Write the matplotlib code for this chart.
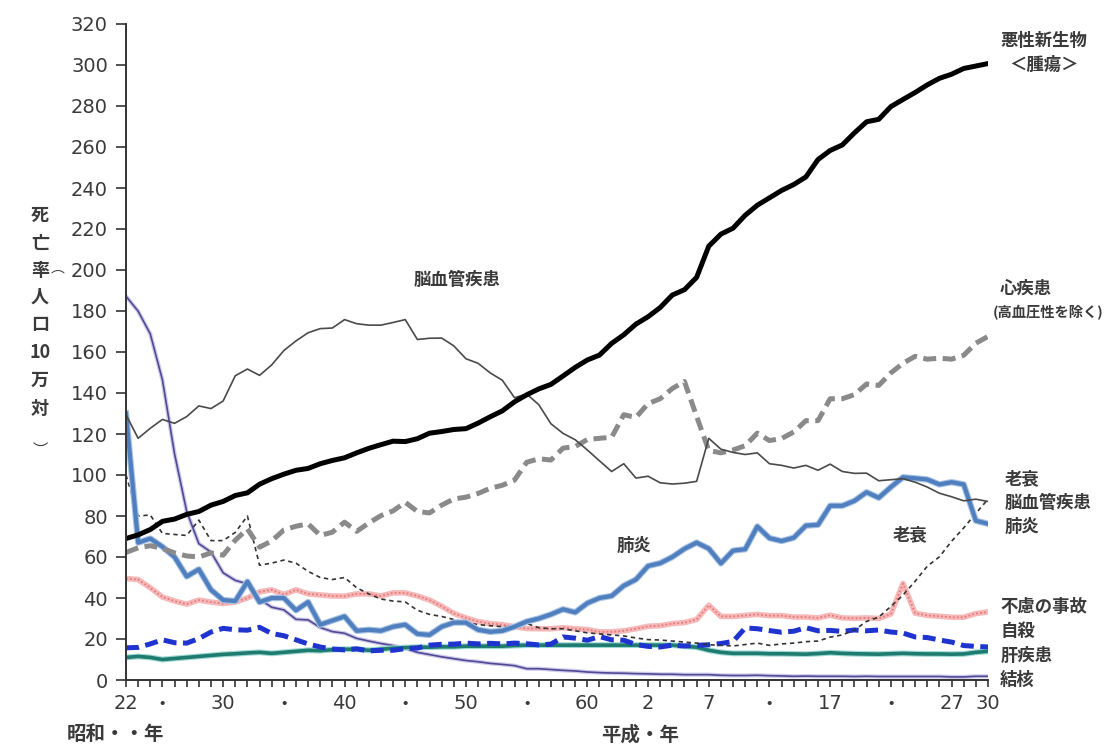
import numpy as np
import matplotlib
matplotlib.use('Agg')
import matplotlib.pyplot as plt

# 年次 (昭和22年 = 1947 ... 平成30年 = 2018)
years = list(range(1947, 2019))

tick_years = [1947, 1950, 1955, 1960, 1965, 1970, 1975, 1980, 1985,
              1990, 1995, 2000, 2005, 2010, 2015, 2018]
tick_labels = ['22', '・', '30', '・', '40', '・', '50', '・', '60',
               '2', '7', '・', '17', '・', '27', '30']

# 死亡率 (人口10万対)
cancer = [69.0, 70.8, 73.4, 77.4, 78.5, 80.8, 82.2, 85.3, 87.1, 90.0,
          91.3, 95.5, 98.2, 100.4, 102.3, 103.2, 105.5, 107.1, 108.4, 110.8,
          113.0, 114.8, 116.5, 116.3, 117.7, 120.4, 121.2, 122.2, 122.6, 125.3,
          128.4, 131.3, 135.7, 139.1, 142.0, 144.2, 148.3, 152.5, 156.1, 158.5,
          164.2, 168.4, 173.6, 177.2, 181.7, 187.8, 190.4, 196.4, 211.6, 217.5,
          220.4, 226.7, 231.6, 235.2, 238.8, 241.7, 245.4, 253.9, 258.3, 261.0,
          266.9, 272.3, 273.5, 279.7, 283.2, 286.6, 290.3, 293.5, 295.5, 298.3,
          299.5, 300.7]

stroke = [129.4, 117.9, 122.8, 127.1, 125.2, 128.5, 133.7, 132.4, 136.1, 148.4,
          151.7, 148.6, 153.7, 160.7, 165.4, 169.4, 171.4, 171.7, 175.8, 173.8,
          173.1, 173.1, 174.4, 175.8, 166.1, 166.7, 166.8, 163.0, 156.7, 154.5,
          149.8, 146.2, 137.7, 139.5, 134.3, 125.0, 120.3, 117.2, 112.2, 106.9,
          101.7, 105.5, 98.5, 99.4, 96.2, 95.6, 96.0, 96.9, 117.9, 112.6,
          111.0, 110.0, 110.8, 105.5, 104.7, 103.4, 104.7, 102.3, 105.3, 101.7,
          100.8, 100.9, 97.2, 97.7, 98.2, 96.5, 94.1, 91.1, 89.4, 87.4,
          88.2, 87.1]

heart = [62.2, 64.5, 65.5, 64.2, 62.0, 60.5, 60.0, 62.0, 60.9, 68.2,
         73.7, 64.8, 67.8, 73.2, 75.0, 76.2, 70.5, 72.1, 77.0, 72.5,
         76.6, 80.2, 82.5, 86.7, 82.2, 81.5, 85.3, 88.3, 89.2, 91.0,
         93.5, 95.0, 97.5, 106.2, 107.9, 107.3, 113.1, 113.9, 117.3, 117.9,
         118.4, 129.4, 128.1, 134.8, 137.2, 142.2, 145.6, 128.6, 112.0, 110.8,
         112.2, 114.3, 120.4, 116.8, 117.8, 121.0, 126.5, 126.5, 137.2, 137.2,
         139.2, 144.4, 143.7, 149.8, 154.5, 157.9, 156.5, 157.0, 156.5, 158.4,
         164.3, 167.6]

pneumonia = [130.0, 67.0, 69.0, 65.0, 60.0, 50.5, 54.0, 44.0, 39.0, 38.5,
             48.0, 38.0, 40.0, 40.0, 34.0, 38.0, 27.0, 29.0, 31.0, 24.0,
             24.5, 24.0, 26.0, 27.0, 22.5, 22.0, 26.0, 28.0, 28.0, 24.5,
             23.5, 24.0, 26.0, 28.5, 30.0, 32.0, 34.5, 33.0, 37.5, 40.0,
             41.0, 46.0, 49.0, 55.6, 57.0, 60.0, 64.0, 67.0, 64.1, 56.9,
             63.1, 63.8, 74.9, 69.2, 67.8, 69.4, 75.3, 75.7, 85.0, 85.0,
             87.4, 91.6, 88.9, 94.1, 98.9, 98.4, 97.8, 95.4, 96.5, 95.4,
             77.7, 76.2]

senility = [100.0, 80.0, 80.5, 71.5, 71.0, 70.5, 78.0, 68.0, 68.0, 72.0,
            80.0, 56.0, 57.0, 58.5, 57.0, 53.0, 50.0, 49.0, 50.0, 45.0,
            42.0, 39.5, 38.5, 38.1, 34.0, 32.0, 31.0, 29.5, 28.1, 27.0,
            26.5, 26.0, 26.0, 27.6, 25.5, 25.0, 25.0, 24.0, 23.0, 22.5,
            22.0, 21.5, 20.5, 19.7, 19.5, 19.0, 18.5, 18.0, 17.2, 16.9,
            16.6, 17.3, 18.0, 16.9, 17.6, 18.0, 18.7, 19.0, 20.9, 22.0,
            24.4, 28.6, 30.7, 35.9, 41.4, 48.2, 55.5, 60.1, 67.7, 74.2,
            81.3, 88.2]

accident = [49.5, 49.0, 45.0, 40.5, 38.5, 37.0, 39.0, 38.0, 37.3, 38.0,
            40.0, 43.0, 44.0, 41.7, 44.0, 42.0, 41.5, 41.0, 40.9, 42.0,
            42.0, 41.0, 42.5, 42.5, 41.0, 39.0, 36.0, 32.5, 30.3, 28.5,
            27.5, 27.0, 26.0, 25.1, 25.0, 25.0, 25.5, 25.0, 24.6, 23.5,
            23.5, 24.0, 25.0, 26.2, 26.5, 27.5, 28.0, 29.5, 36.5, 31.0,
            31.0, 31.5, 32.0, 31.4, 31.4, 30.7, 30.7, 30.3, 31.6, 30.3,
            30.1, 30.3, 30.0, 32.2, 47.1, 32.6, 31.5, 31.1, 30.6, 30.6,
            32.4, 33.2]

suicide = [15.7, 15.9, 17.6, 19.6, 18.2, 18.0, 20.2, 23.4, 25.2, 24.5,
           24.3, 25.7, 22.7, 21.6, 19.6, 17.6, 16.1, 15.1, 14.7, 15.2,
           14.2, 14.5, 14.5, 15.3, 15.6, 17.0, 17.4, 17.5, 18.0, 17.6,
           17.9, 17.6, 18.0, 17.7, 17.1, 17.5, 21.0, 20.4, 19.4, 21.2,
           19.6, 19.4, 17.3, 16.4, 16.1, 17.0, 16.6, 16.9, 17.2, 17.8,
           18.8, 25.4, 25.0, 24.1, 23.3, 23.8, 25.5, 24.0, 24.2, 23.7,
           24.4, 24.0, 24.4, 23.4, 22.9, 21.0, 20.7, 19.5, 18.5, 16.8,
           16.4, 16.1]

liver = [11.0, 11.5, 11.0, 10.0, 10.5, 11.0, 11.5, 12.0, 12.5, 12.8,
         13.2, 13.5, 13.0, 13.5, 14.0, 14.5, 14.3, 14.8, 15.0, 15.0,
         14.5, 15.0, 15.5, 15.8, 16.0, 16.0, 16.2, 16.2, 16.5, 16.5,
         16.5, 16.5, 16.8, 17.0, 17.0, 17.0, 17.0, 17.0, 17.0, 17.0,
         17.0, 17.0, 17.0, 17.0, 17.0, 17.0, 16.5, 16.0, 14.5, 13.5,
         13.0, 13.0, 13.0, 12.8, 12.8, 12.7, 12.6, 12.9, 13.3, 13.0,
         12.8, 12.7, 12.6, 12.8, 13.0, 12.8, 12.7, 12.7, 12.6, 12.7,
         13.5, 14.0]

tb = [187.2, 179.9, 168.8, 146.4, 110.3, 82.2, 66.5, 62.4, 52.3, 48.6,
      46.9, 39.4, 35.5, 34.2, 29.6, 29.3, 25.6, 23.6, 22.8, 20.3,
      19.0, 17.8, 16.8, 15.4, 13.5, 12.4, 11.3, 10.4, 9.5, 8.9,
      8.1, 7.6, 7.0, 5.5, 5.5, 5.1, 4.7, 4.4, 3.9, 3.6,
      3.4, 3.3, 3.1, 3.0, 2.8, 2.8, 2.6, 2.6, 2.6, 2.3,
      2.2, 2.2, 2.3, 2.1, 2.0, 1.8, 1.9, 1.8, 1.8, 1.8,
      1.7, 1.8, 1.7, 1.7, 1.7, 1.7, 1.7, 1.7, 1.5, 1.5,
      1.8, 1.8]

plt.rcParams['font.family'] = ['DejaVu Sans', 'Noto Sans CJK JP']
cjk = ['Noto Sans CJK JP', 'DejaVu Sans']
txt_color = '#3a3a3a'

fig = plt.figure(figsize=(11.04, 7.46), dpi=100)
ax = fig.add_axes([126 / 1104, 66 / 746, 862 / 1104, 656 / 746])

# 結核
ax.plot(years, tb, color='#cfcbe8', lw=3.0)
ax.plot(years, tb, color='#4f4996', lw=1.2)
# 肝疾患
ax.plot(years, liver, color='#9fd9d3', lw=4.2)
ax.plot(years, liver, color='#1f7b6f', lw=2.6)
# 自殺
ax.plot(years, suicide, color='#1f33cf', lw=3.6, dashes=(2.6, 1.3))
# 不慮の事故
ax.plot(years, accident, color='#f6b8b8', lw=4.0)
ax.plot(years, accident, color='#e77b7b', lw=1.3, dashes=(1, 1.2))
# 老衰
ax.plot(years, senility, color='#333333', lw=1.2, dashes=(2.6, 2.2))
# 肺炎
ax.plot(years, pneumonia, color='#a9c3e4', lw=4.6)
ax.plot(years, pneumonia, color='#4f7fbe', lw=3.0)
# 心疾患
ax.plot(years, heart, color='#8a8a8a', lw=3.6, dashes=(2.6, 1.3))
# 脳血管疾患
ax.plot(years, stroke, color='#4a4a4a', lw=1.2)
# 悪性新生物
ax.plot(years, cancer, color='#000000', lw=3.6)

ax.set_xlim(1947, 2018)
ax.set_ylim(0, 320)
ax.set_yticks(np.arange(0, 321, 20))
ax.set_xticks(tick_years)
ax.set_xticklabels(tick_labels)
ax.set_xticks(years, minor=True)
for lab in ax.get_xticklabels():
    if lab.get_text() == '・':
        lab.set_fontfamily(cjk)

for s in ['top', 'right']:
    ax.spines[s].set_visible(False)
for s in ['left', 'bottom']:
    ax.spines[s].set_color('#333333')
    ax.spines[s].set_linewidth(1.4)

ax.tick_params(axis='y', direction='out', length=7, width=1.2, color='#333333',
               labelsize=14, labelcolor=txt_color, pad=6)
ax.tick_params(axis='x', which='both', direction='out', length=5, width=1.2,
               color='#333333', labelsize=14, labelcolor=txt_color, pad=5)

# 系列ラベル
lab_kw = dict(fontsize=12.5, color=txt_color, family=cjk, clip_on=False,
              linespacing=1.45, fontweight='bold')
ax.text(2019.0, 306, '悪性新生物\n＜腫瘍＞', ha='left', va='center',
        multialignment='center', **lab_kw)
ax.text(2019.0, 191, '心疾患', ha='left', va='center', **lab_kw)
ax.text(2018.4, 179, '(高血圧性を除く)', ha='left', va='center',
        fontsize=10.3, color=txt_color, family=cjk, clip_on=False,
        fontweight='bold')
ax.text(2019.4, 86.3, '老衰\n脳血管疾患\n肺炎', ha='left', va='center',
        multialignment='left', **lab_kw)
ax.text(2019.0, 17.8, '不慮の事故\n自殺\n肝疾患\n結核', ha='left', va='center',
        multialignment='left', **lab_kw)

ax.text(1974.3, 195, '脳血管疾患', ha='center', va='center', **lab_kw)
ax.text(1988.8, 65.4, '肺炎', ha='center', va='center', **lab_kw)
ax.text(2011.6, 70.7, '老衰', ha='center', va='center', **lab_kw)

# 縦書きの軸ラベル
ylab_chars = ['死', '亡', '率', '人', '口', '10', '万', '対']
ylab_pos = [215, 243, 270, 297, 325, 353, 380, 408]
for ch, py in zip(ylab_chars, ylab_pos):
    fig.text(40 / 1104, 1 - py / 746, ch, ha='center', va='center',
             fontsize=13, color=txt_color, family=cjk, fontweight='bold')
fig.text(58 / 1104, 1 - 268 / 746, '︵', ha='center', va='center',
         fontsize=10, color=txt_color, family=cjk)
fig.text(40 / 1104, 1 - 450 / 746, '︶', ha='center', va='center',
         fontsize=11, color=txt_color, family=cjk)

# 元号
fig.text(115 / 1104, 1 - 735 / 746, '昭和・・年', ha='center', va='center',
         fontsize=14, color=txt_color, family=cjk, fontweight='bold')
fig.text(640 / 1104, 1 - 735 / 746, '平成・年', ha='center', va='center',
         fontsize=14, color=txt_color, family=cjk, fontweight='bold')

fig.savefig('out.png', dpi=100, facecolor='white')
